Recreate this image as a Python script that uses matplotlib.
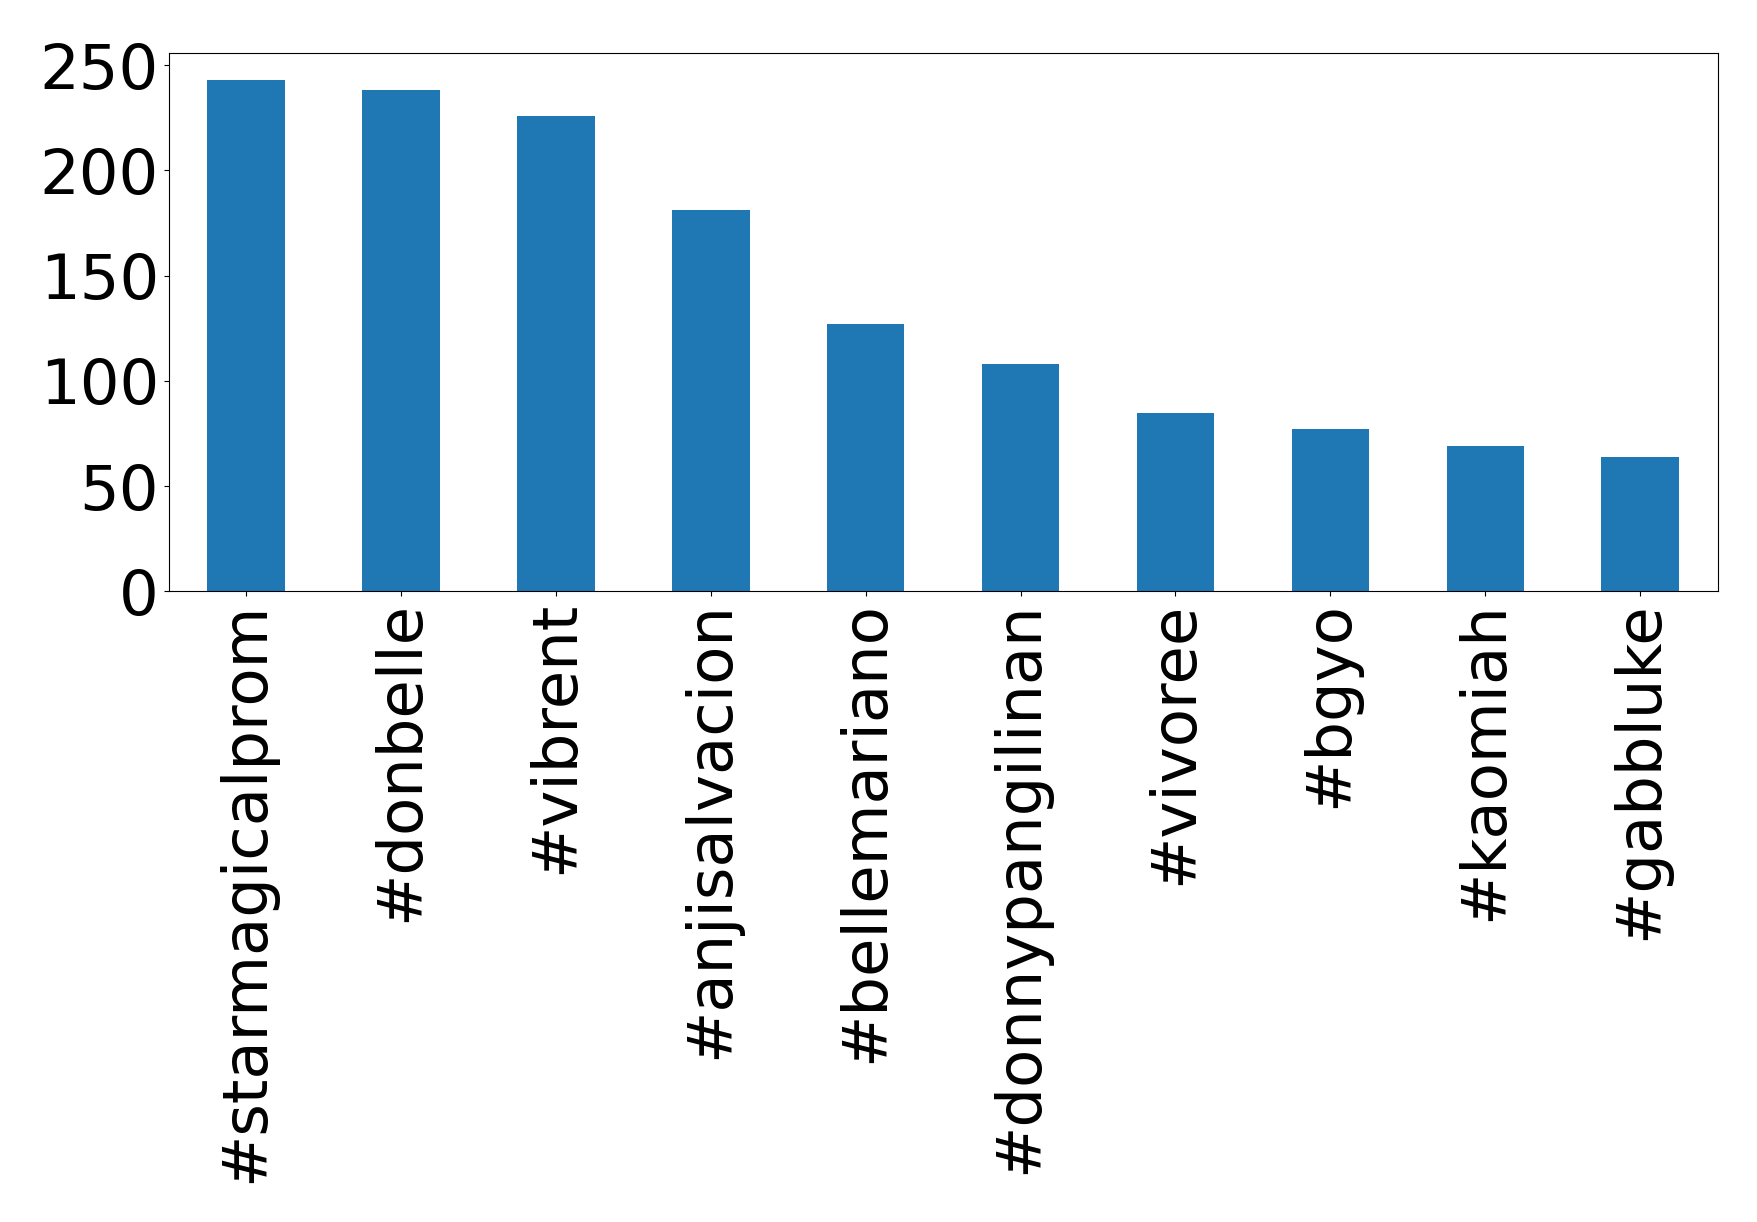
import numpy as np
import matplotlib
matplotlib.use("Agg")
import matplotlib.pyplot as plt

# hashtag counts
hashtags = ["#starmagicalprom", "#donbelle", "#vibrent", "#anjisalvacion",
            "#bellemariano", "#donnypangilinan", "#vivoree", "#bgyo",
            "#kaomiah", "#gabbluke"]
counts = [243, 238, 226, 181, 127, 108, 85, 77, 69, 64]

fig = plt.figure(figsize=(17.58, 12.22), dpi=100)
ax = fig.add_axes([0.096, 0.516, 0.881, 0.441])

x = np.arange(len(hashtags))
ax.bar(x, counts, width=0.5, color="#1f77b4")
ax.set_xlim(-0.5, len(hashtags) - 0.5)
ax.set_ylim(0, 256)
ax.set_yticks([0, 50, 100, 150, 200, 250])
ax.set_xticks(x)
ax.set_xticklabels(hashtags, rotation=90)
ax.tick_params(axis="both", labelsize=45)

fig.savefig("out.png", dpi=100)
